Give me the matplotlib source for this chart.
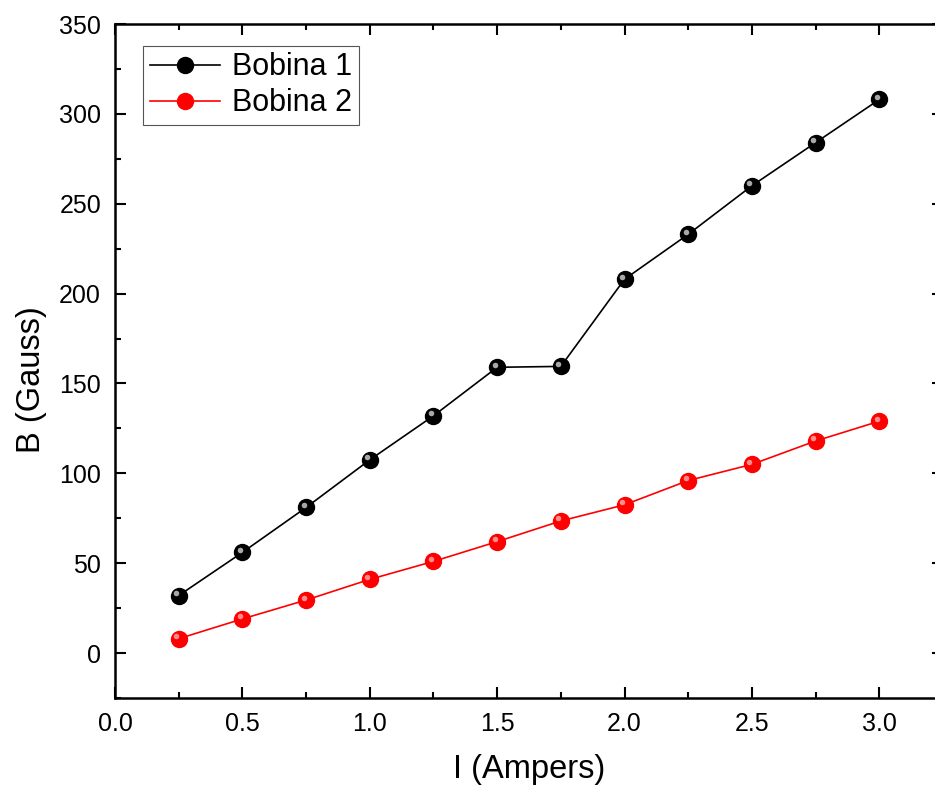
import numpy as np
import matplotlib.pyplot as plt
from matplotlib.transforms import ScaledTranslation
from matplotlib.ticker import MultipleLocator

plt.rcParams['font.family'] = ['Liberation Sans', 'DejaVu Sans']

corrente = [0.25, 0.5, 0.75, 1.0, 1.25, 1.5, 1.75, 2.0, 2.25, 2.5, 2.75, 3.0]
bobina1 = [32, 56, 81, 107.5, 132, 159, 159.5, 208, 233, 260, 284, 308]
bobina2 = [8, 19, 29.5, 41, 51, 62, 73.5, 82.5, 96, 105, 118, 129]

W, H = 935, 787
fig = plt.figure(figsize=(W / 100, H / 100), dpi=100)
# axes box in pixels: left 115, right ~943 (cropped), top 24, bottom 698
ax = fig.add_axes([115 / W, (H - 698) / H, (943 - 115) / W, (698 - 24) / H])

series = [(bobina1, 'black', 'Bobina 1'), (bobina2, 'red', 'Bobina 2')]
hl = ax.transData + ScaledTranslation(-2.5 / 100, 2.5 / 100, fig.dpi_scale_trans)
for vals, cor, nome in series:
    ax.plot(corrente, vals, '-', color=cor, lw=1.2, marker='o', ms=11.5,
            mfc=cor, mec=cor, label=nome, zorder=3)
    # highlight to give the markers a shaded, sphere-like look
    ax.plot(corrente, vals, 'o', color='#bbbbbb' if cor == 'black' else '#ff9a9a',
            ms=4, mec='none', transform=hl, zorder=4, alpha=0.9)

ax.set_xlim(0, 3.25)
ax.set_ylim(-25, 350)
ax.xaxis.set_major_locator(MultipleLocator(0.5))
ax.xaxis.set_minor_locator(MultipleLocator(0.25))
ax.yaxis.set_major_locator(MultipleLocator(50))
ax.yaxis.set_minor_locator(MultipleLocator(25))
ax.set_xticks(np.arange(0, 3.01, 0.5))
ax.set_xticklabels(['0.0', '0.5', '1.0', '1.5', '2.0', '2.5', '3.0'])
ax.tick_params(which='both', direction='in', top=True, right=True, width=1.5,
               labelsize=18, pad=10)
ax.tick_params(which='major', length=8)
ax.tick_params(which='minor', length=4.5)
for s in ax.spines.values():
    s.set_linewidth(1.8)

ax.set_xlabel('I (Ampers)', fontsize=23.5, labelpad=13)
ax.set_ylabel('B (Gauss)', fontsize=23.5)
ax.yaxis.set_label_coords(-0.082, 0.473)

leg = ax.legend(loc='upper left', bbox_to_anchor=(0.034, 0.968), fontsize=22,
                fancybox=False, framealpha=1, edgecolor='#555555',
                handlelength=2.3, borderpad=0.22, labelspacing=0.2,
                handletextpad=0.4, borderaxespad=0)
leg.get_frame().set_linewidth(0.8)

fig.savefig('out.png', dpi=100)
